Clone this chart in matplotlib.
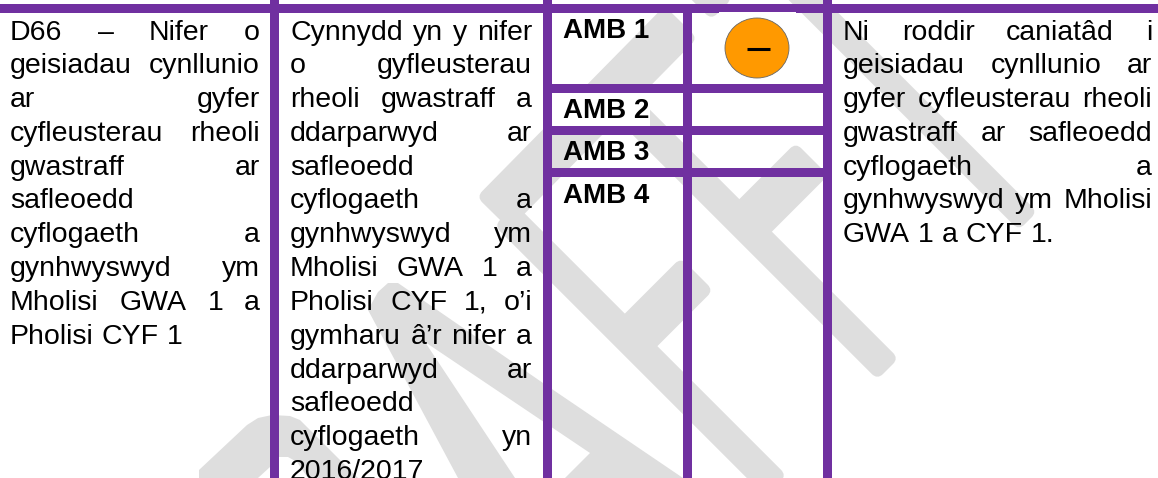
import numpy as np
import matplotlib
matplotlib.use('Agg')
import matplotlib.pyplot as plt
from matplotlib.patches import Rectangle, Ellipse, FancyBboxPatch, Polygon
from matplotlib.transforms import Affine2D

plt.rcParams['font.family'] = ['Liberation Sans', 'DejaVu Sans']

# table text, one list per cell, as the lines wrap in the picture
col1_lines = ['D66 – Nifer o', 'geisiadau cynllunio', 'ar gyfer', 'cyfleusterau rheoli',
              'gwastraff ar', 'safleoedd', 'cyflogaeth a', 'gynhwyswyd ym',
              'Mholisi GWA 1 a', 'Pholisi CYF 1']
col2_lines = ['Cynnydd yn y nifer', 'o gyfleusterau', 'rheoli gwastraff a', 'ddarparwyd ar',
              'safleoedd', 'cyflogaeth a', 'gynhwyswyd ym', 'Mholisi GWA 1 a',
              'Pholisi CYF 1, o’i', 'gymharu â’r nifer a', 'ddarparwyd ar', 'safleoedd',
              'cyflogaeth yn', '2016/2017']
col5_lines = ['Ni roddir caniatâd i', 'geisiadau cynllunio ar', 'gyfer cyfleusterau rheoli',
              'gwastraff ar safleoedd', 'cyflogaeth a', 'gynhwyswyd ym Mholisi', 'GWA 1 a CYF 1.']
amb_labels = ['AMB 1', 'AMB 2', 'AMB 3', 'AMB 4']
amb_baselines = [38, 118, 160, 203]

purple = '#7030A0'
grey = '#DEDEDE'

# grid, in pixels of the picture
vert_lines = [(270, 0), (543, 0), (683, 13), (823, 0)]
row_lines = [84, 126, 168]

# watermark strokes (x0, y0, x1, y1, width)
wm_strokes = [
    (785, -22, 1028, 221, 26),
    (611, 92, 888, 369, 30),
    (505, 215, 776, 486, 30),
    (493, 213, 681, 22, 46),
    (745, 226, 812, 159, 46),
    (631, 340, 697, 274, 46),
    (670, -43, 722, 9, 30),
]
wm_letter_a = [(368, 310), (378, 292), (388, 283), (398, 283), (543, 383), (683, 478), (565, 478),
               (590, 453), (425, 342), (515, 478), (458, 478)]
wm_letter_d = [(199, 478), (199, 470), (247, 425), (258, 418), (272, 415), (290, 416), (300, 420),
               (358, 478), (308, 478), (297, 462), (288, 457), (278, 457), (270, 467), (258, 478)]

fig = plt.figure(figsize=(11.58, 4.78), dpi=100)
ax = fig.add_axes([0, 0, 1, 1])
ax.set_xlim(0, 1158)
ax.set_ylim(478, 0)
ax.axis('off')


def band(x0, y0, x1, y1, w):
    length = np.hypot(x1 - x0, y1 - y0)
    tr = Affine2D().rotate(np.arctan2(y1 - y0, x1 - x0)).translate(x0, y0) + ax.transData
    ax.add_patch(FancyBboxPatch((0, -w / 2), length, w, boxstyle='round,pad=0,rounding_size=8',
                                fc=grey, ec='none', transform=tr, zorder=1))


for s in wm_strokes:
    band(*s)
ax.add_patch(Polygon(wm_letter_a, fc=grey, ec='none', zorder=1))
ax.add_patch(Polygon(wm_letter_d, fc=grey, ec='none', zorder=1))

# white patches that hide the watermark
ax.add_patch(Rectangle((719, 12), 77, 72, fc='white', ec='none', zorder=2))
ax.add_patch(Rectangle((552, 93), 98, 33, fc='white', ec='none', zorder=2))

# purple grid
ax.add_patch(Rectangle((0, 4), 1158, 9, fc=purple, ec='none', zorder=1.5))
for x, y in vert_lines:
    ax.add_patch(Rectangle((x, y), 9, 478 - y, fc=purple, ec='none', zorder=3))
for y in row_lines:
    ax.add_patch(Rectangle((543, y), 289, 9, fc=purple, ec='none', zorder=3))

# amber symbol
ax.add_patch(Ellipse((757, 48), 64, 60, fc='#FF9900', ec='#666666', lw=0.6, zorder=4))
ax.plot([747, 770], [49, 49], color='black', lw=2.2, solid_capstyle='butt', zorder=5)


def justified(lines, left, right, size=20.5):
    renderer = fig.canvas.get_renderer()
    for i, line in enumerate(lines):
        y = 39.5 + 33.8 * i
        words = line.split(' ')
        items = [ax.text(left, y, w, fontsize=size, color='black', va='baseline', zorder=6) for w in words]
        widths = [t.get_window_extent(renderer).width for t in items]
        if line == lines[-1] or len(words) == 1:
            gap = 8
        else:
            gap = (right - left - sum(widths)) / (len(words) - 1)
        x = left
        for t, w in zip(items, widths):
            t.set_x(x)
            x += w + gap


justified(col1_lines, 10, 260)
justified(col2_lines, 290, 532)
justified(col5_lines, 843, 1152)

for label, y in zip(amb_labels, amb_baselines):
    ax.text(563, y, label, fontsize=20, fontweight='bold', color='black', va='baseline', zorder=6)

fig.savefig('out.png', dpi=100)
